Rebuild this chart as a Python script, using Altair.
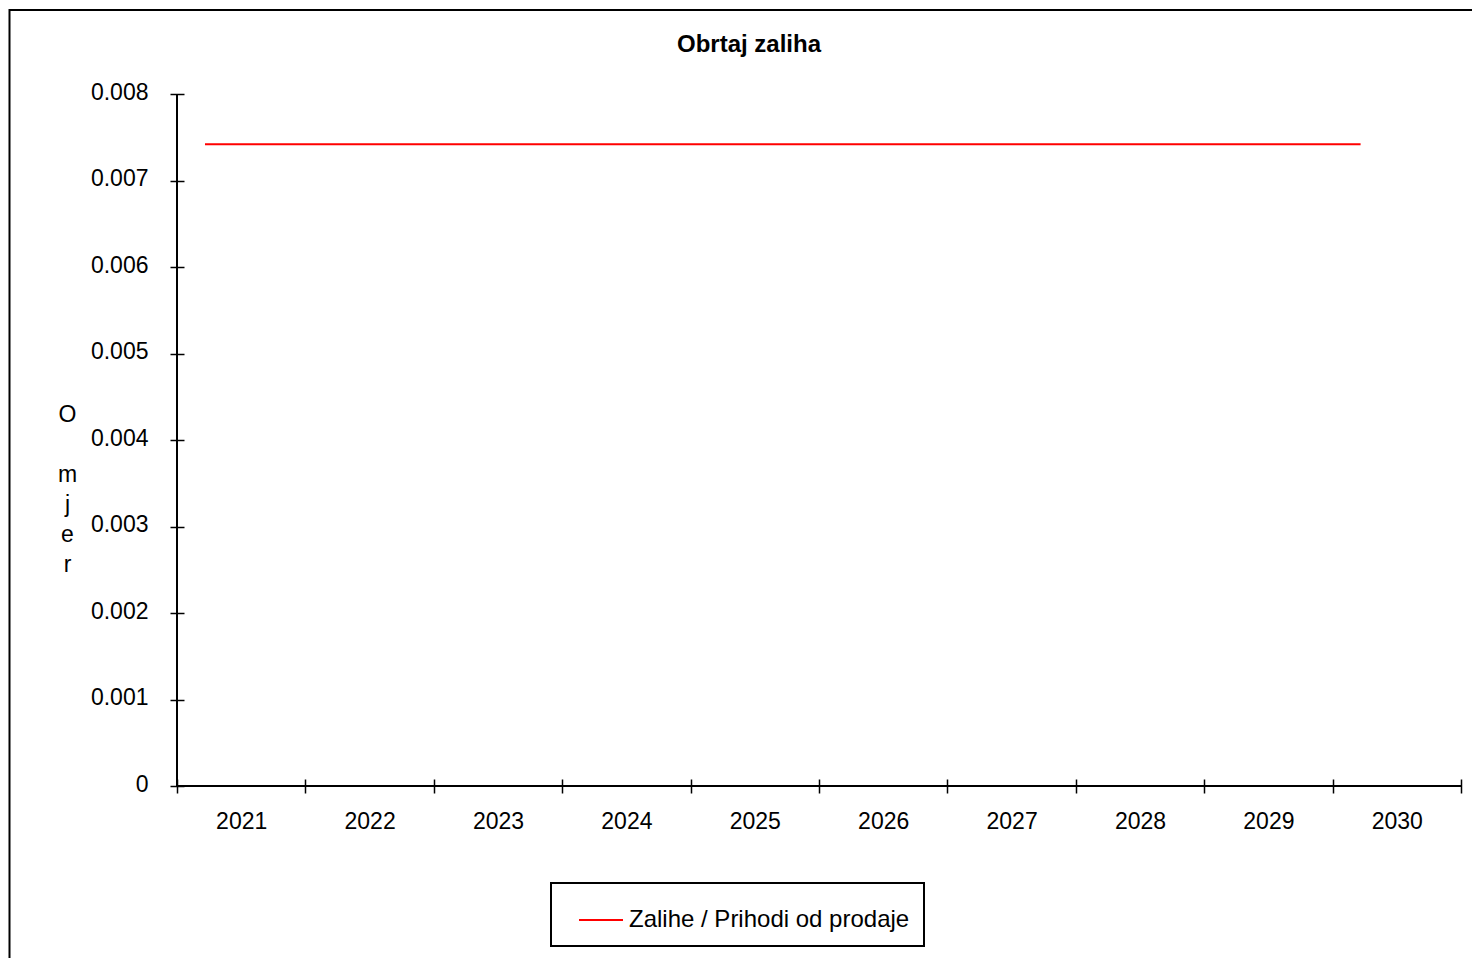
import altair as alt
import pandas as pd

years = ["2021", "2022", "2023", "2024", "2025", "2026", "2027", "2028", "2029", "2030"]
ratio = [0.00742, 0.00742, 0.00742, 0.00742, 0.00742, 0.00742, 0.00742, 0.00742, 0.00742, 0.00742]
series_name = "Zalihe / Prihodi od prodaje"
y_ticks = [0, 0.001, 0.002, 0.003, 0.004, 0.005, 0.006, 0.007, 0.008]

FONT = "Liberation Sans"
W, H = 1284, 692

df = pd.DataFrame({"year": years, "ratio": ratio, "series": [series_name] * len(years)})

xscale = alt.Scale(type="band", domain=years, paddingInner=0, paddingOuter=0)
yscale = alt.Scale(domain=[0, 0.008], nice=False, zero=True)

line = alt.Chart(df).mark_line(strokeWidth=2).encode(
    x=alt.X("year:N", bandPosition=0.218, scale=xscale,
            axis=alt.Axis(tickBand="extent", domain=False, ticks=True, tickSize=14, offset=-7,
                          tickColor="black", tickWidth=1.5, labelPadding=17, labelAngle=0,
                          labelFontSize=23, labelFont=FONT, labelColor="black", grid=False, title=None)),
    y=alt.Y("ratio:Q", scale=yscale,
            axis=alt.Axis(values=y_ticks, format="~f", domain=False, ticks=True, tickSize=14, offset=-7,
                          tickColor="black", tickWidth=1.5, labelPadding=22, labelFontSize=23,
                          labelFont=FONT, labelColor="black", labelOffset=-2, grid=False,
                          title=["O", "\u200b", "m", "j", "e", "r"], titleAngle=0, titleX=-117, titleY=320,
                          titleAlign="center", titleBaseline="middle", titleLineHeight=30,
                          titleFontSize=23, titleFont=FONT, titleFontWeight="normal", titleColor="black")),
    color=alt.Color("series:N", scale=alt.Scale(domain=[series_name], range=["#ff0000"]),
                    legend=alt.Legend(orient="none", legendX=374, legendY=789, title=None,
                                      symbolType="stroke", symbolSize=1936, symbolStrokeWidth=2,
                                      labelFontSize=24, labelFont=FONT, labelColor="black", labelLimit=500,
                                      strokeColor="black", fillColor="white", padding=14,
                                      symbolOffset=13, labelOffset=5)),
)

one = pd.DataFrame({"a": [0]})
x_domain = alt.Chart(one).mark_rule(color="black", strokeWidth=2).encode(y=alt.datum(0))
y_domain = alt.Chart(one).mark_rule(color="black", strokeWidth=2).encode(
    x=alt.value(0), y=alt.value(0), y2=alt.value(H))
frame = alt.Chart(one).mark_rect(fill=None, stroke="black", strokeWidth=2).encode(
    x=alt.value(-167.5), y=alt.value(-84), x2=alt.value(3000), y2=alt.value(3000))

chart = alt.layer(frame, x_domain, y_domain, line).properties(
    width=W, height=H,
    autosize=alt.AutoSizeParams(type="none"),
    padding={"left": 169, "top": 86, "right": 11, "bottom": 172},
    title=alt.TitleParams("Obrtaj zaliha", fontSize=24, fontWeight="bold", font=FONT, color="black",
                          anchor="middle", frame="group", dx=-70, offset=-48),
).configure(background="white").configure_view(stroke=None).configure_legend(strokeWidth=2)

chart.save("out.html", embed_options={"renderer": "svg", "actions": False})
